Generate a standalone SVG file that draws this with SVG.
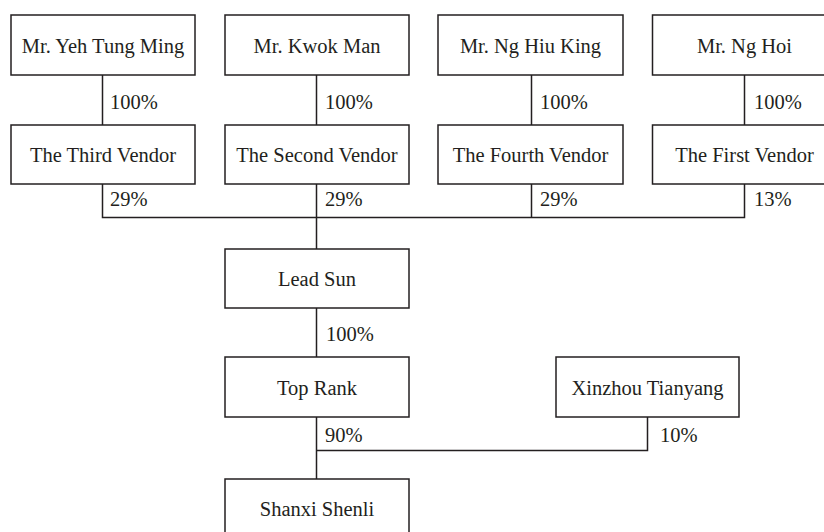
<svg xmlns="http://www.w3.org/2000/svg" width="824" height="532" viewBox="0 0 824 532">
<style>
.box{fill:#fff;stroke:#231f20;stroke-width:1.5}
.ln{fill:none;stroke:#231f20;stroke-width:1.5}
text{font-family:"Liberation Serif","Times New Roman",serif;font-size:20.5px;fill:#231f20}
.c{text-anchor:middle}
</style>
<rect width="824" height="532" fill="#fff"/>
<g id="connectors">
<path class="ln" d="M102.5 75V125M316.5 75V125M531.5 75V125M744.5 75V125"/>
<path class="ln" d="M102.5 184V217.5H744.5V184M316.5 184V249M531.5 184V217.5"/>
<path class="ln" d="M316.5 308V357"/>
<path class="ln" d="M316.5 417V479M316.5 450.5H647.5V417"/>
<text x="110" y="109">100%</text>
<text x="325" y="109">100%</text>
<text x="540" y="109">100%</text>
<text x="754" y="109">100%</text>
<text x="110" y="206">29%</text>
<text x="325" y="206">29%</text>
<text x="540" y="206">29%</text>
<text x="754" y="206">13%</text>
<text x="326" y="341">100%</text>
<text x="325" y="442">90%</text>
<text x="660" y="442">10%</text>
</g>
<g id="n1"><rect class="box" x="11" y="15" width="184" height="60"/><text class="c" x="103" y="53">Mr. Yeh Tung Ming</text></g>
<g id="n2"><rect class="box" x="225" y="15" width="184" height="60"/><text class="c" x="317" y="53">Mr. Kwok Man</text></g>
<g id="n3"><rect class="box" x="438" y="15" width="185" height="60"/><text class="c" x="530.5" y="53">Mr. Ng Hiu King</text></g>
<g id="n4"><rect class="box" x="652.5" y="15" width="184" height="60"/><text class="c" x="744.5" y="53">Mr. Ng Hoi</text></g>
<g id="v3"><rect class="box" x="11" y="125" width="184" height="59"/><text class="c" x="103" y="162">The Third Vendor</text></g>
<g id="v2"><rect class="box" x="225" y="125" width="184" height="59"/><text class="c" x="317" y="162">The Second Vendor</text></g>
<g id="v4"><rect class="box" x="438" y="125" width="185" height="59"/><text class="c" x="530.5" y="162">The Fourth Vendor</text></g>
<g id="v1"><rect class="box" x="652.5" y="125" width="184" height="59"/><text class="c" x="744.5" y="162">The First Vendor</text></g>
<g id="leadsun"><rect class="box" x="225" y="249" width="184" height="59"/><text class="c" x="317" y="286">Lead Sun</text></g>
<g id="toprank"><rect class="box" x="225" y="357" width="184" height="60"/><text class="c" x="317" y="395">Top Rank</text></g>
<g id="xinzhou"><rect class="box" x="556" y="357" width="183" height="60"/><text class="c" x="647.5" y="395">Xinzhou Tianyang</text></g>
<g id="shanxi"><rect class="box" x="225" y="479" width="184" height="62"/><text class="c" x="317" y="516">Shanxi Shenli</text></g>
</svg>
